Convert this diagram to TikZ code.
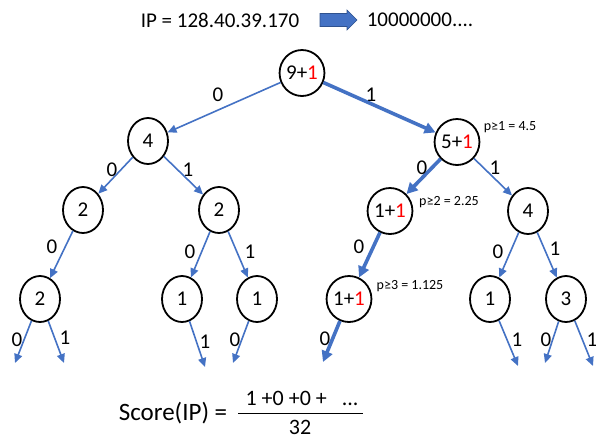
\documentclass[tikz,border=0pt]{standalone}
\usepackage{fontspec}
\setmainfont{Carlito}
\usetikzlibrary{shapes.geometric,arrows.meta}
\definecolor{edgeblue}{HTML}{4472C4}
\definecolor{edgedark}{HTML}{2F528F}
\newcommand{\fs}[1]{\fontsize{#1}{#1}\selectfont}
\newcommand{\hit}{\textcolor{red}{1}}
\begin{document}
\begin{tikzpicture}[x=1pt,y=-1pt,
  tnode/.style={ellipse,draw=black,line width=1.8pt,minimum width=40pt,minimum height=46pt,inner sep=0pt,font=\fs{21}},
  lbl/.style={inner sep=0pt,font=\fs{21}},
  note/.style={inner sep=0pt,font=\fs{14}},
  edge/.style={draw=edgeblue,line width=1.6pt,-{Triangle[length=9pt,width=8pt]}},
  hot/.style={draw=edgeblue,line width=3.6pt,-{Triangle[length=11pt,width=11pt]}}]
\useasboundingbox (0,0) rectangle (596,439);

% heading: address and its bit string
\node[inner sep=0pt,font=\fs{21}] (ip) at (220,20) {IP = 128.40.39.170};
\coordinate (conv) at (320,20);
\fill[edgeblue,draw=edgedark,line width=0.6pt]
  (conv) ++(0,-6.5) -- ++(27,0) -- ++(0,-3.5) -- ++(10,10) -- ++(-10,10) -- ++(0,-3.5) -- ++(-27,0) -- cycle;
\node[inner sep=0pt,font=\fs{21}] (bits) at (420,20) {10000000....};

% tree nodes
\node[tnode] (r)   at (302,73)  {9+\hit};
\node[tnode] (a)   at (148,141) {4};
\node[tnode] (b)   at (457,142) {5+\hit};
\node[tnode] (aa)  at (83,210)  {2};
\node[tnode] (ab)  at (219,210) {2};
\node[tnode] (ba)  at (390,211) {1+\hit};
\node[tnode] (bb)  at (528,211) {4};
\node[tnode] (aaa) at (40,299)  {2};
\node[tnode] (aba) at (182,299) {1};
\node[tnode] (abb) at (257,299) {1};
\node[tnode] (baa) at (349,299) {1+\hit};
\node[tnode] (bba) at (490,299) {1};
\node[tnode] (bbb) at (566,299) {3};

% open ends below the last level
\coordinate (e1) at (15,363);
\coordinate (e2) at (64,363);
\coordinate (e3) at (205,367);
\coordinate (e4) at (233,363);
\coordinate (e5) at (323,362);
\coordinate (e6) at (518,366);
\coordinate (e7) at (545,363);
\coordinate (e8) at (593,366);

% branches
\draw[edge] (r) -- (a);
\draw[hot]  (r) -- (b);
\draw[edge] (a) -- (aa);
\draw[edge] (a) -- (ab);
\draw[hot]  (b) -- (ba);
\draw[edge] (b) -- (bb);
\draw[edge] (aa) -- (aaa);
\draw[edge] (ab) -- (aba);
\draw[edge] (ab) -- (abb);
\draw[hot]  (ba) -- (baa);
\draw[edge] (bb) -- (bba);
\draw[edge] (bb) -- (bbb);
\draw[edge] (aaa) -- (e1);
\draw[edge] (aaa) -- (e2);
\draw[edge] (aba) -- (e3);
\draw[edge] (abb) -- (e4);
\draw[hot]  (baa) -- (e5);
\draw[edge] (bba) -- (e6);
\draw[edge] (bbb) -- (e7);
\draw[edge] (bbb) -- (e8);

% bit labels
\node[lbl] (l1)  at (218,95)  {0};
\node[lbl] (l2)  at (371,95)  {1};
\node[lbl] (l3)  at (112,170) {0};
\node[lbl] (l4)  at (188,170) {1};
\node[lbl] (l5)  at (422,168) {0};
\node[lbl] (l6)  at (495,168) {1};
\node[lbl] (l7)  at (52,247)  {0};
\node[lbl] (l8)  at (190,252) {0};
\node[lbl] (l9)  at (250,252) {1};
\node[lbl] (l10) at (359,247) {0};
\node[lbl] (l11) at (498,252) {0};
\node[lbl] (l12) at (555,249) {1};
\node[lbl] (l13) at (17,340)  {0};
\node[lbl] (l14) at (65,338)  {1};
\node[lbl] (l15) at (205,342) {1};
\node[lbl] (l16) at (235,340) {0};
\node[lbl] (l17) at (325,339) {0};
\node[lbl] (l18) at (517,340) {1};
\node[lbl] (l19) at (546,340) {0};
\node[lbl] (l20) at (592,340) {1};

% thresholds along the path
\node[note] (p1) at (510,127) {p≥1 = 4.5};
\node[note] (p2) at (449,202) {p≥2 = 2.25};
\node[note] (p3) at (410,286) {p≥3 = 1.125};

% score formula
\node[inner sep=0pt,font=\fs{25}] (score) at (173,413) {Score(IP) =};
\node[inner sep=0pt,font=\fs{22}] (num) at (302,398) {1 +0 +0 +\ \ \ ...};
\node[inner sep=0pt,font=\fs{22}] (den) at (300,427) {32};
\coordinate (fl) at (238,413);
\coordinate (fr) at (363,413);
\draw[line width=1pt] (fl) -- (fr);
\end{tikzpicture}
\end{document}
